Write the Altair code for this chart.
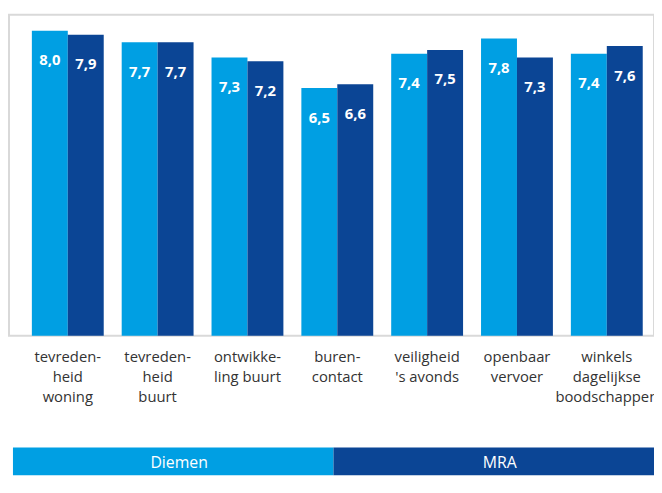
import altair as alt
import pandas as pd

categories = [
    "tevreden-\nheid\nwoning",
    "tevreden-\nheid\nbuurt",
    "ontwikke-\nling buurt",
    "buren-\ncontact",
    "veiligheid\n's avonds",
    "openbaar\nvervoer",
    "winkels\ndagelijkse\nboodschappen",
]
series = ["Diemen", "MRA"]
diemen = [8.0, 7.7, 7.3, 6.5, 7.4, 7.8, 7.4]
mra = [7.9, 7.7, 7.2, 6.6, 7.5, 7.3, 7.6]
colors = ["#009fe3", "#0b4595"]

rows = []
for i, c in enumerate(categories):
    for s, vals in zip(series, [diemen, mra]):
        v = vals[i]
        rows.append({"cat": c, "series": s, "value": v,
                     "label": f"{v:.1f}".replace(".", ",")})
df = pd.DataFrame(rows)

xenc = alt.X("cat:N", sort=categories,
             scale=alt.Scale(paddingInner=0.2, paddingOuter=0.19, align=0.67),
             axis=alt.Axis(title=None, labelAngle=0, domain=False, ticks=False,
                           labelExpr="split(datum.label, '\\n')",
                           labelFont="Open Sans", labelFontSize=15,
                           labelColor="#333333", labelPadding=14,
                           labelLineHeight=20, labelBaseline="top",
                           labelLimit=0))
yscale = alt.Scale(domain=[0, 8.42], nice=False)
color = alt.Color("series:N", sort=series,
                  scale=alt.Scale(domain=series, range=colors), legend=None)

base = alt.Chart(df).encode(
    x=xenc,
    xOffset=alt.XOffset("series:N", sort=series),
)

bars = base.mark_bar().encode(
    y=alt.Y("value:Q", scale=yscale, axis=None),
    color=color,
)
texts = base.mark_text(color="white", fontWeight="bold", font="Open Sans",
                       fontSize=15, dy=30, baseline="middle").encode(
    y=alt.Y("value:Q", scale=yscale),
    text="label:N",
)
main = alt.layer(bars, texts)

leg_df = pd.DataFrame({"series": series})
leg_base = alt.Chart(leg_df).encode(
    x=alt.X("series:N", sort=series,
            scale=alt.Scale(paddingInner=0, paddingOuter=0.0062, align=1),
            axis=None),
)
leg_rect = leg_base.mark_rect().encode(
    y=alt.value(438), y2=alt.value(466),
    color=alt.Color("series:N", sort=series,
                    scale=alt.Scale(domain=series, range=colors), legend=None),
)
leg_text = leg_base.mark_text(color="white", font="Open Sans", fontSize=16,
                              baseline="middle", dx=6).encode(
    y=alt.value(454),
    text="series:N",
)
legend = alt.layer(leg_rect, leg_text)

chart = alt.layer(main, legend).resolve_scale(x="independent").properties(
    width=653, height=325,
    padding={"left": 1, "top": 4, "right": 0, "bottom": 141},
    autosize=alt.AutoSizeParams(type="none"),
).configure_view(
    stroke="#d9d9d9", strokeWidth=2
)

chart.save("out.html", embed_options={"renderer": "svg", "actions": False})
